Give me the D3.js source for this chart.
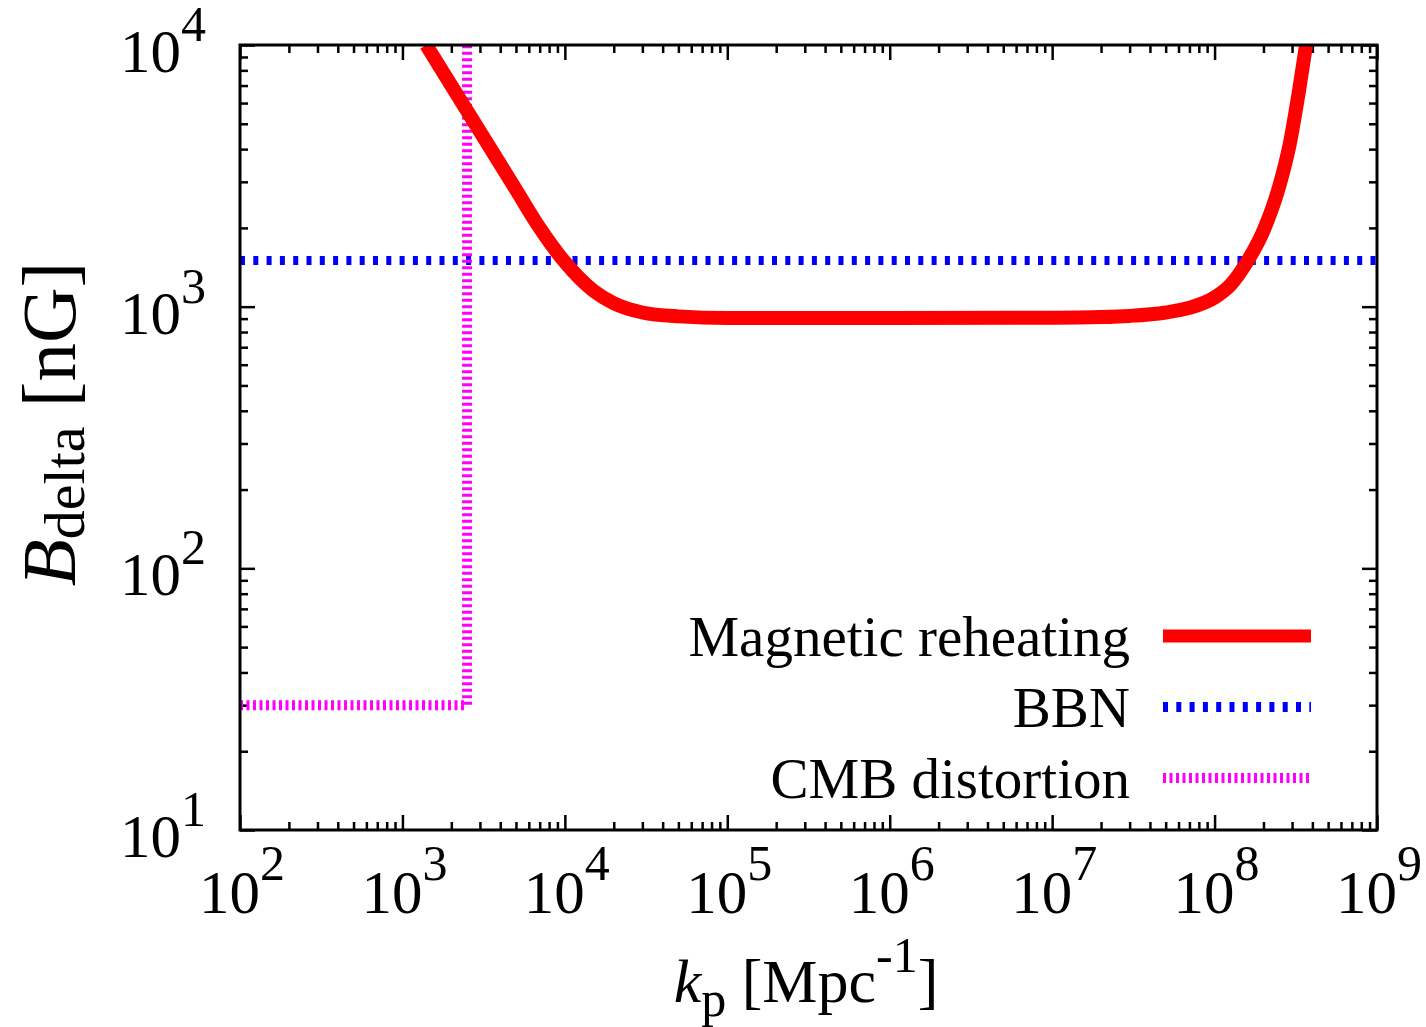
<html>
<head>
<script src="https://d3js.org/d3.v7.min.js"></script>
<style>
  body { margin: 0; background: #fff; }
  text { font-family: "Liberation Serif", "Times New Roman", serif; fill: #000; }
</style>
</head>
<body>
<div id="chart"></div>
<script>
// data
var kp = [1.4e3, 2e3, 3e3, 5e3, 7e3, 1e4, 1.5e4, 2e4, 3e4, 5e4, 1e5, 1e6, 1e7, 2e7, 3e7, 5e7, 7e7, 1e8, 1.26e8, 1.58e8, 2e8, 2.5e8, 2.9e8, 3.3e8, 3.66e8];
var Bmag = [1e4, 7000, 4670, 2800, 2000, 1480, 1150, 1030, 950, 918, 905, 905, 908, 913, 922, 950, 990, 1084, 1216, 1480, 1950, 2880, 4170, 6600, 1e4];
var bbnK = [1e2, 1e9];
var bbnB = [1500, 1500];
var cmbK = [1e2, 2500, 2500];
var cmbB = [30, 30, 1e4];
var xDecades = [2, 3, 4, 5, 6, 7, 8, 9];
var yDecades = [1, 2, 3, 4];
var legendNames = ["Magnetic reheating", "BBN", "CMB distortion"];

var W = 1426, H = 1027;
var pLeft = 240, pRight = 1377, pTop = 45, pBottom = 830;

var svg = d3.select("#chart").append("svg").attr("width", W).attr("height", H);

var x = d3.scaleLog().domain([1e2, 1e9]).range([pLeft, pRight]);
var y = d3.scaleLog().domain([1e1, 1e4]).range([pBottom, pTop]);

// minor tick values
var xMinor = [], yMinor = [];
for (var e = 2; e < 9; e++) for (var m = 2; m < 10; m++) xMinor.push(m * Math.pow(10, e));
for (var e = 1; e < 4; e++) for (var m = 2; m < 10; m++) yMinor.push(m * Math.pow(10, e));
var xMajor = xDecades.map(function(d){ return Math.pow(10, d); });
var yMajor = yDecades.map(function(d){ return Math.pow(10, d); });

function styleAxis(g) {
  g.select(".domain").remove();
  g.selectAll("line").attr("stroke", "#000").attr("stroke-width", 2.5);
  g.selectAll("text").remove();
}

// ticks on all four sides, pointing inward
svg.append("g").attr("transform", "translate(0," + pBottom + ")").call(d3.axisBottom(x).tickValues(xMajor).tickSize(-15)).call(styleAxis);
svg.append("g").attr("transform", "translate(0," + pBottom + ")").call(d3.axisBottom(x).tickValues(xMinor).tickSize(-8)).call(styleAxis);
svg.append("g").attr("transform", "translate(0," + pTop + ")").call(d3.axisTop(x).tickValues(xMajor).tickSize(-15)).call(styleAxis);
svg.append("g").attr("transform", "translate(0," + pTop + ")").call(d3.axisTop(x).tickValues(xMinor).tickSize(-8)).call(styleAxis);
svg.append("g").attr("transform", "translate(" + pLeft + ",0)").call(d3.axisLeft(y).tickValues(yMajor).tickSize(-15)).call(styleAxis);
svg.append("g").attr("transform", "translate(" + pLeft + ",0)").call(d3.axisLeft(y).tickValues(yMinor).tickSize(-8)).call(styleAxis);
svg.append("g").attr("transform", "translate(" + pRight + ",0)").call(d3.axisRight(y).tickValues(yMajor).tickSize(-15)).call(styleAxis);
svg.append("g").attr("transform", "translate(" + pRight + ",0)").call(d3.axisRight(y).tickValues(yMinor).tickSize(-8)).call(styleAxis);

// tick labels 10^n
xDecades.forEach(function(d) {
  var t = svg.append("text").attr("x", x(Math.pow(10, d)) + 2).attr("y", 913)
    .attr("text-anchor", "middle").style("font-size", "61px");
  t.append("tspan").text("10");
  t.append("tspan").attr("dy", -33).style("font-size", "50px").text(d);
});
yDecades.forEach(function(d) {
  var t = svg.append("text").attr("x", 206).attr("y", y(Math.pow(10, d)) + 27)
    .attr("text-anchor", "end").style("font-size", "61px");
  t.append("tspan").text("10");
  t.append("tspan").attr("dy", -31).style("font-size", "50px").text(d);
});

svg.append("clipPath").attr("id", "plotclip").append("rect")
  .attr("x", pLeft).attr("y", pTop).attr("width", pRight - pLeft).attr("height", pBottom - pTop);

var line = d3.line().x(function(d){ return x(d[0]); }).y(function(d){ return y(d[1]); });
var lines = svg.append("g").attr("clip-path", "url(#plotclip)");

lines.append("path").datum(d3.zip(bbnK, bbnB)).attr("d", line)
  .attr("fill", "none").attr("stroke", "#0000ff").attr("stroke-width", 9)
  .attr("stroke-dasharray", "5,8.3");

lines.append("path").datum(d3.zip(cmbK, cmbB)).attr("d", line)
  .attr("fill", "none").attr("stroke", "#ff00ff").attr("stroke-width", 10)
  .attr("stroke-dasharray", "3,3.5");

lines.append("path").datum(d3.zip(kp, Bmag)).attr("d", line.curve(d3.curveMonotoneX))
  .attr("fill", "none").attr("stroke", "#ff0000").attr("stroke-width", 14)
  .attr("stroke-linejoin", "round");

// frame
svg.append("rect").attr("x", pLeft).attr("y", pTop).attr("width", pRight - pLeft).attr("height", pBottom - pTop)
  .attr("fill", "none").attr("stroke", "#000").attr("stroke-width", 3);

// legend
var legY = [636, 707, 778];
var legStyle = [
  {c: "#ff0000", w: 13, dash: null},
  {c: "#0000ff", w: 10, dash: "5,8.3"},
  {c: "#ff00ff", w: 10, dash: "3,3.5"}
];
legendNames.forEach(function(n, i) {
  svg.append("text").attr("x", 1130).attr("y", legY[i] + 20).attr("text-anchor", "end")
    .style("font-size", "57px").text(n);
  var l = svg.append("line").attr("x1", 1163).attr("x2", 1311).attr("y1", legY[i]).attr("y2", legY[i])
    .attr("stroke", legStyle[i].c).attr("stroke-width", legStyle[i].w);
  if (legStyle[i].dash) l.attr("stroke-dasharray", legStyle[i].dash);
});

// axis labels
var xl = svg.append("text").attr("x", 806).attr("y", 1002).attr("text-anchor", "middle").style("font-size", "62px");
xl.append("tspan").style("font-style", "italic").text("k");
xl.append("tspan").attr("dy", 14).style("font-size", "50px").text("p");
xl.append("tspan").attr("dy", -14).text(" [Mpc");
xl.append("tspan").attr("dy", -30).style("font-size", "50px").text("-1");
xl.append("tspan").attr("dy", 30).text("]");

var yl = svg.append("text").attr("transform", "translate(75,424) rotate(-90)").attr("text-anchor", "middle").style("font-size", "77px");
yl.append("tspan").style("font-style", "italic").text("B");
yl.append("tspan").attr("dy", 9).style("font-size", "58px").text("delta");
yl.append("tspan").attr("dy", -9).text(" [nG]");
</script>
</body>
</html>
